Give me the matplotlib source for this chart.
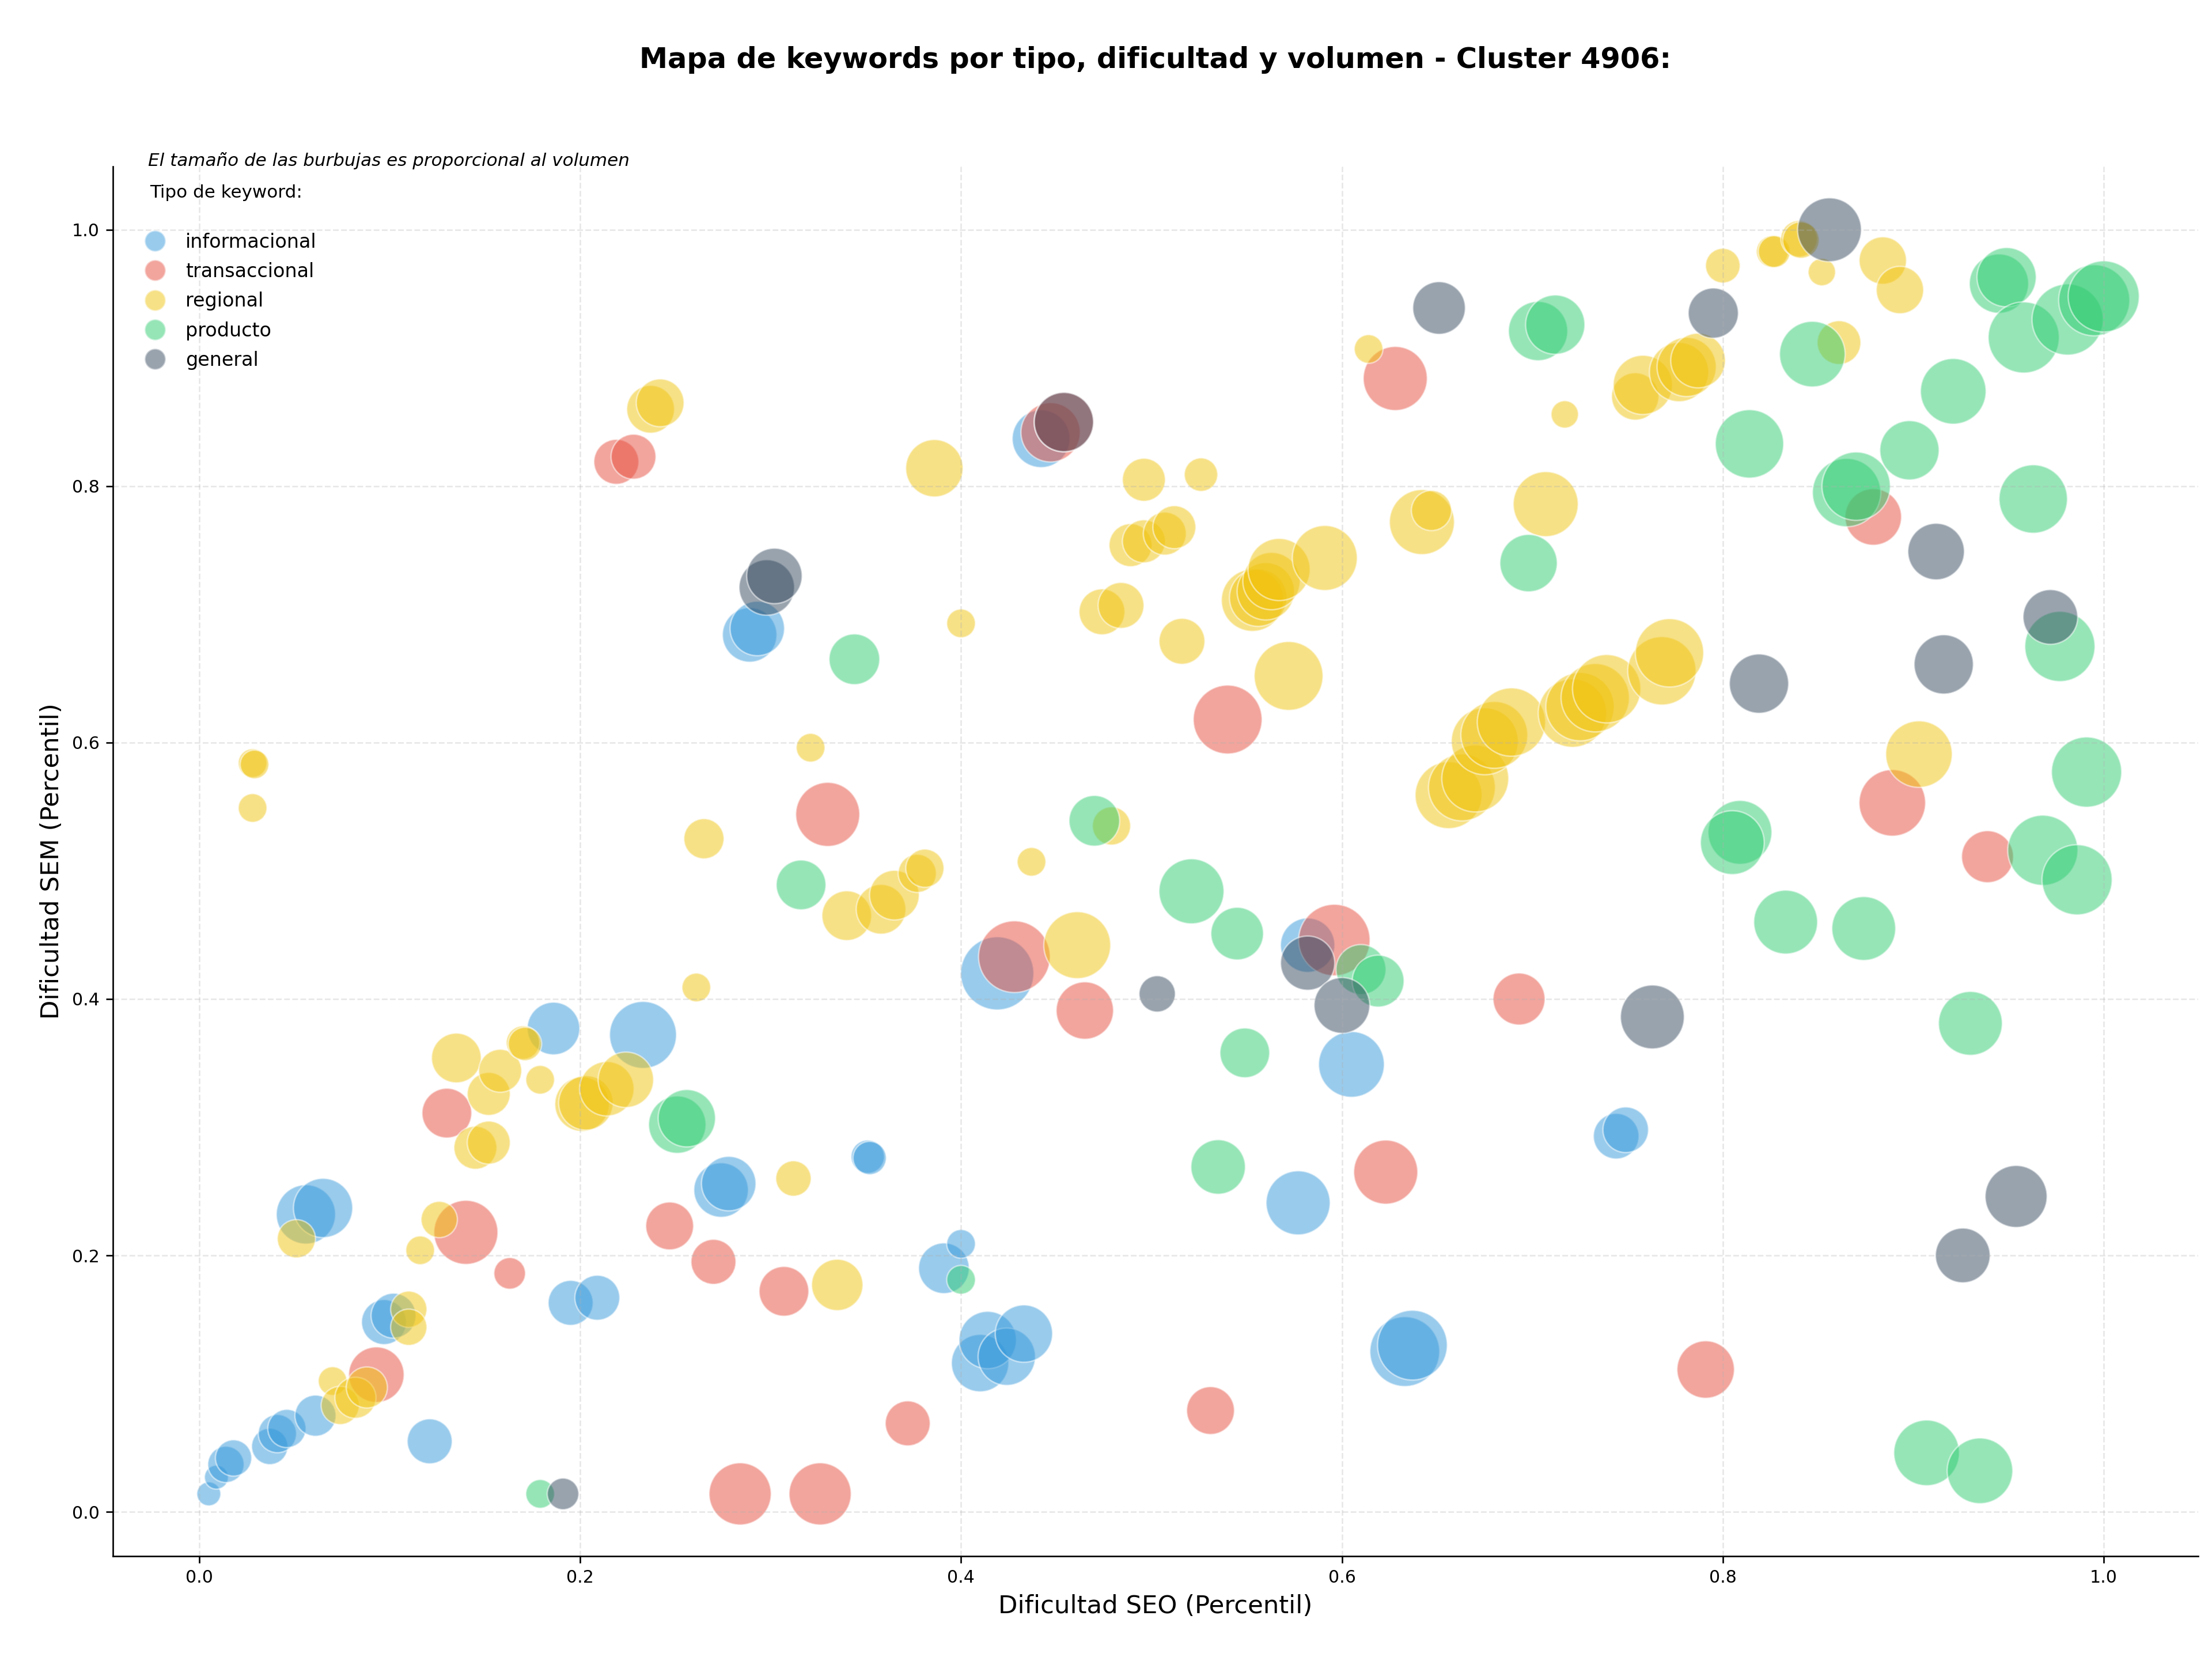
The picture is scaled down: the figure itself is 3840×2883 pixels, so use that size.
import matplotlib
matplotlib.use("Agg")
import matplotlib.pyplot as plt
from matplotlib.lines import Line2D


# tipo de keyword -> color
tipos = ['informacional', 'transaccional', 'regional', 'producto', 'general']
colores = ['#3498db', '#e74c3c', '#f1c40f', '#2ecc71', '#34495e']

# dificultad SEO, dificultad SEM, volumen (por tipo)
info_seo = [0.005, 0.009, 0.014, 0.018, 0.037, 0.041, 0.046, 0.061, 0.121, 0.097,
            0.102, 0.056, 0.065, 0.186, 0.233, 0.195, 0.209, 0.274, 0.278, 0.289,
            0.293, 0.351, 0.352, 0.391, 0.400, 0.410, 0.414, 0.424, 0.433, 0.419,
            0.442, 0.582, 0.605, 0.577, 0.633, 0.637, 0.744, 0.749]
info_sem = [0.014, 0.027, 0.037, 0.042, 0.051, 0.061, 0.065, 0.075, 0.055, 0.148,
            0.153, 0.232, 0.237, 0.377, 0.372, 0.163, 0.167, 0.251, 0.256, 0.684,
            0.689, 0.277, 0.276, 0.190, 0.209, 0.116, 0.134, 0.121, 0.139, 0.420,
            0.837, 0.442, 0.349, 0.241, 0.125, 0.130, 0.293, 0.298]
info_vol = [155, 155, 357, 357, 357, 396, 396, 458, 547, 547,
            547, 951, 951, 749, 1213, 547, 547, 804, 804, 804,
            804, 300, 300, 695, 223, 891, 891, 891, 891, 1450,
            900, 800, 1170, 1111, 1319, 1319, 563, 563]

trans_seo = [0.219, 0.228, 0.447, 0.454, 0.330, 0.540, 0.628, 0.130, 0.140, 0.163,
             0.093, 0.247, 0.270, 0.307, 0.284, 0.326, 0.372, 0.428, 0.465, 0.596,
             0.623, 0.693, 0.531, 0.879, 0.889, 0.939, 0.791]
trans_sem = [0.819, 0.823, 0.842, 0.850, 0.544, 0.618, 0.884, 0.311, 0.218, 0.186,
             0.107, 0.223, 0.195, 0.172, 0.014, 0.014, 0.069, 0.433, 0.391, 0.446,
             0.265, 0.400, 0.079, 0.776, 0.553, 0.511, 0.111]
trans_vol = [547, 547, 951, 961, 1111, 1283, 1111, 669, 1111, 270,
             833, 619, 547, 669, 1046, 1046, 547, 1392, 891, 1384,
             1111, 731, 619, 865, 1199, 731, 893]

reg_seo = [0.028, 0.029, 0.028, 0.051, 0.070, 0.074, 0.082, 0.088, 0.110, 0.110,
           0.116, 0.126, 0.135, 0.145, 0.152, 0.152, 0.158, 0.170, 0.171, 0.179,
           0.201, 0.203, 0.214, 0.224, 0.237, 0.242, 0.261, 0.265, 0.312, 0.321,
           0.335, 0.340, 0.358, 0.365, 0.377, 0.381, 0.386, 0.400, 0.437, 0.461,
           0.479, 0.474, 0.484, 0.489, 0.496, 0.507, 0.512, 0.496, 0.526, 0.516,
           0.553, 0.556, 0.560, 0.563, 0.567, 0.591, 0.572, 0.614, 0.642, 0.647,
           0.707, 0.717, 0.656, 0.663, 0.670, 0.675, 0.680, 0.689, 0.721, 0.725,
           0.733, 0.739, 0.768, 0.772, 0.754, 0.758, 0.777, 0.781, 0.787, 0.800,
           0.826, 0.827, 0.840, 0.841, 0.852, 0.884, 0.893, 0.861, 0.903]
reg_sem = [0.584, 0.583, 0.549, 0.213, 0.102, 0.083, 0.089, 0.097, 0.158, 0.144,
           0.204, 0.228, 0.354, 0.284, 0.288, 0.326, 0.344, 0.366, 0.365, 0.337,
           0.318, 0.319, 0.330, 0.337, 0.860, 0.865, 0.409, 0.525, 0.260, 0.596,
           0.177, 0.465, 0.470, 0.481, 0.498, 0.502, 0.814, 0.693, 0.507, 0.442,
           0.535, 0.702, 0.707, 0.754, 0.757, 0.763, 0.768, 0.805, 0.809, 0.679,
           0.711, 0.713, 0.718, 0.726, 0.735, 0.744, 0.652, 0.907, 0.772, 0.781,
           0.786, 0.856, 0.559, 0.565, 0.572, 0.601, 0.606, 0.616, 0.623, 0.628,
           0.635, 0.642, 0.656, 0.670, 0.870, 0.879, 0.889, 0.893, 0.898, 0.972,
           0.983, 0.983, 0.993, 0.992, 0.967, 0.976, 0.953, 0.912, 0.591]
reg_vol = [223, 223, 223, 396, 223, 396, 458, 458, 357, 357,
           223, 357, 669, 501, 501, 501, 501, 303, 303, 223,
           804, 804, 804, 833, 619, 619, 223, 437, 339, 223,
           714, 669, 669, 669, 396, 396, 891, 223, 223, 1213,
           396, 570, 570, 501, 501, 501, 501, 501, 303, 570,
           1046, 891, 891, 891, 1046, 1144, 1283, 223, 1144, 437,
           1144, 203, 1213, 1213, 1213, 1213, 1213, 1266, 1266, 1266,
           1266, 1266, 1266, 1266, 608, 951, 951, 951, 810, 325,
           276, 276, 360, 360, 203, 608, 608, 518, 1199]

prod_seo = [0.179, 0.251, 0.256, 0.316, 0.344, 0.400, 0.470, 0.521, 0.545, 0.549,
            0.535, 0.610, 0.619, 0.698, 0.703, 0.712, 0.814, 0.847, 0.865, 0.870,
            0.898, 0.921, 0.945, 0.949, 0.958, 0.981, 0.995, 1.000, 0.963, 0.977,
            0.991, 0.809, 0.805, 0.968, 0.986, 0.833, 0.874, 0.930, 0.907, 0.935]
prod_sem = [0.014, 0.302, 0.307, 0.489, 0.665, 0.181, 0.539, 0.484, 0.451, 0.358,
            0.269, 0.423, 0.414, 0.740, 0.921, 0.926, 0.833, 0.903, 0.795, 0.800,
            0.828, 0.874, 0.958, 0.963, 0.916, 0.930, 0.945, 0.948, 0.790, 0.675,
            0.577, 0.530, 0.522, 0.516, 0.493, 0.460, 0.455, 0.381, 0.046, 0.032]
prod_vol = [223, 891, 891, 669, 695, 223, 695, 1144, 749, 669,
            804, 676, 729, 891, 951, 951, 1266, 1166, 1266, 1266,
            951, 1166, 951, 951, 1369, 1369, 1369, 1369, 1266, 1334,
            1334, 1103, 1103, 1334, 1334, 1103, 1103, 1103, 1166, 1166]

gen_seo = [0.191, 0.298, 0.302, 0.454, 0.503, 0.582, 0.600, 0.651, 0.763, 0.795,
           0.819, 0.856, 0.912, 0.916, 0.972, 0.954, 0.926]
gen_sem = [0.014, 0.721, 0.730, 0.850, 0.404, 0.428, 0.395, 0.939, 0.386, 0.935,
           0.646, 1.000, 0.749, 0.661, 0.698, 0.246, 0.200]
gen_vol = [270, 833, 833, 951, 357, 795, 841, 749, 1103, 681,
           951, 1103, 865, 951, 810, 1040, 810]

datos = [
    (info_seo, info_sem, info_vol),
    (trans_seo, trans_sem, trans_vol),
    (reg_seo, reg_sem, reg_vol),
    (prod_seo, prod_sem, prod_vol),
    (gen_seo, gen_sem, gen_vol),
]

fig = plt.figure(figsize=(16, 12.0125), dpi=240)
ax = fig.add_axes([0.051, 0.0631, 0.94275, 0.8367])

for (seo, sem, vol), tipo, color in zip(datos, tipos, colores):
    ax.scatter(seo, sem, s=vol, c=color, alpha=0.5, edgecolors='white',
               linewidths=0.8, label=tipo)

ax.set_xlim(-0.0454, 1.0496)
ax.set_ylim(-0.0346, 1.0494)
ax.grid(True, linestyle='--', alpha=0.3)
ax.spines['top'].set_visible(False)
ax.spines['right'].set_visible(False)
ax.tick_params(labelsize=9)
ax.set_xlabel('Dificultad SEO (Percentil)', fontsize=13)
ax.set_ylabel('Dificultad SEM (Percentil)', fontsize=13)

# titulo centrado sobre el area del grafico
fig.text(0.5224, 0.964,
         'Mapa de keywords por tipo, dificultad y volumen - Cluster 4906:',
         fontsize=14.8, fontweight='bold', ha='center', va='center')

ax.text(0.017, 1.004, 'El tamaño de las burbujas es proporcional al volumen',
        transform=ax.transAxes, fontsize=9.3, style='italic', va='center')
ax.text(0.0177, 0.981, 'Tipo de keyword:', transform=ax.transAxes,
        fontsize=9.3, va='center')

handles = [Line2D([], [], marker='o', linestyle='', markersize=11,
                  markerfacecolor=c, markeredgecolor='white', alpha=0.5)
           for c in colores]
ax.legend(handles, tipos, loc='upper left', bbox_to_anchor=(0.0074, 0.958),
          borderaxespad=0, frameon=False, fontsize=10, labelspacing=0.55,
          handletextpad=0.58)

fig.savefig('out.png', dpi=240)
